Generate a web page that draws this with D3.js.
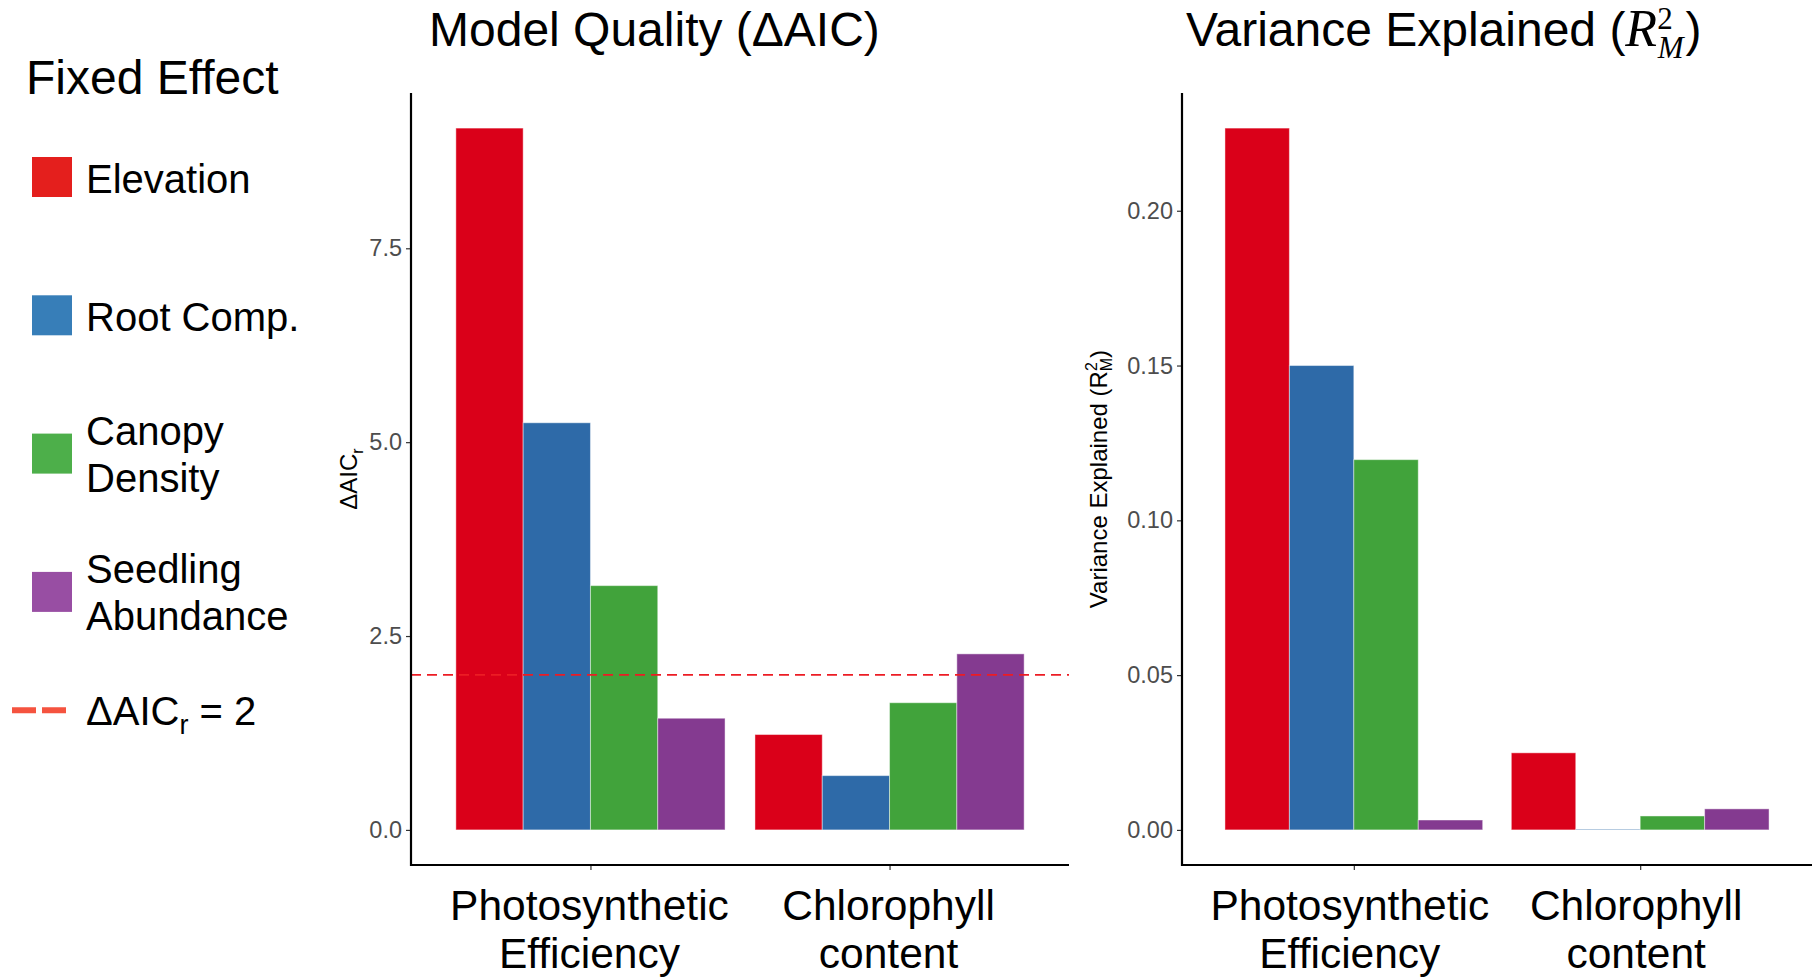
<!DOCTYPE html>
<html>
<head>
<meta charset="utf-8">
<script src="https://cdn.jsdelivr.net/npm/d3@7"></script>
<style>
  body { margin: 0; background: #fff; }
  text { font-family: "Liberation Sans", Arial, sans-serif; }
</style>
</head>
<body>
<div id="chart"></div>
<script>
    const width = 1814, height = 977;
    const plotTop = 93, plotBottom = 865;

    // data
    const categories = [["Photosynthetic", "Efficiency"], ["Chlorophyll", "content"]];
    const effects = ["Elevation", "Root Comp.", "Canopy Density", "Seedling Abundance"];
    const legendLines = [["Elevation"], ["Root Comp."], ["Canopy", "Density"], ["Seedling", "Abundance"]];
    const aicPhoto = [9.05, 5.25, 3.15, 1.44];
    const aicChloro = [1.23, 0.70, 1.64, 2.27];
    const r2Photo = [0.2267, 0.150, 0.1196, 0.0032];
    const r2Chloro = [0.0249, 0.0002, 0.0045, 0.0068];
    const aicTicks = [0, 2.5, 5, 7.5];
    const r2Ticks = [0, 0.05, 0.10, 0.15, 0.20];
    const aicThreshold = 2;

    const barColors = ["#DA0019", "#2E6AA8", "#41A33B", "#843A90"];
    const keyColors = ["#E41F1D", "#377EB8", "#4DAF4A", "#984EA3"];

    const svg = d3.select("#chart").append("svg")
        .attr("width", width)
        .attr("height", height);
    svg.append("rect").attr("width", width).attr("height", height).attr("fill", "#fff");

    const drawPanel = function (p) {
        const x = d3.scaleLinear().domain([0.4, categories.length + 0.6]).range([p.x0, p.x1]);
        const maxV = d3.max(p.series.flat());
        const y = d3.scaleLinear().domain([-0.05 * maxV, 1.05 * maxV]).range([plotBottom, plotTop]);
        const g = svg.append("g");

        const bars = [];
        p.series.forEach((vals, ci) => {
            vals.forEach((v, si) => bars.push({cat: ci + 1, s: si, v: v}));
        });
        const bw = 0.9 / effects.length;

        g.append("g")
            .selectAll("rect")
            .data(bars)
            .enter()
            .append("rect")
            .attr("x", d => x(d.cat - 0.45 + d.s * bw))
            .attr("width", d => x(bw) - x(0))
            .attr("y", d => y(d.v))
            .attr("height", d => y(0) - y(d.v))
            .attr("fill", d => barColors[d.s])
            .attr("stroke", "rgba(255,255,255,0.45)")
            .attr("stroke-width", 1);

        if (p.threshold !== undefined) {
            g.append("line")
                .attr("x1", p.x0).attr("x2", p.x1)
                .attr("y1", y(p.threshold)).attr("y2", y(p.threshold))
                .attr("stroke", "#EC1C24")
                .attr("stroke-width", 1.8)
                .attr("stroke-dasharray", "10,6");
        }

        // y axis
        const yAxis = g.append("g")
            .attr("transform", `translate(${p.x0},0)`)
            .call(d3.axisLeft(y).tickValues(p.ticks).tickFormat(p.fmt).tickSize(5).tickPadding(4));
        yAxis.select(".domain").remove();
        yAxis.selectAll(".tick line").attr("stroke", "#333").attr("stroke-width", 1.2);
        yAxis.selectAll(".tick text")
            .attr("font-family", "Liberation Sans, Arial, sans-serif")
            .attr("font-size", 23.5)
            .attr("fill", "#4D4D4D");

        // x axis ticks
        const xAxis = g.append("g")
            .attr("transform", `translate(0,${plotBottom})`)
            .call(d3.axisBottom(x).tickValues(d3.range(1, categories.length + 1)).tickFormat("").tickSize(5));
        xAxis.select(".domain").remove();
        xAxis.selectAll(".tick line").attr("stroke", "#333").attr("stroke-width", 1.2);

        categories.forEach((lines, i) => {
            const t = g.append("text")
                .attr("text-anchor", "middle")
                .attr("font-size", 42.5)
                .attr("fill", "#000");
            lines.forEach((ln, j) => {
                t.append("tspan").attr("x", x(i + 1) - p.labelShift).attr("y", 920 + j * 48).text(ln);
            });
        });

        // axis lines
        g.append("path")
            .attr("d", `M${p.x0},${plotTop}V${plotBottom}H${p.x1}`)
            .attr("fill", "none")
            .attr("stroke", "#000")
            .attr("stroke-width", 2.2);

        // y title
        const yt = g.append("text")
            .attr("transform", `translate(${p.yTitleX},${(plotTop + plotBottom) / 2}) rotate(-90)`)
            .attr("text-anchor", "middle")
            .attr("font-size", 24)
            .attr("fill", "#000");
        p.yTitle(yt);

        // panel title
        const tt = g.append("text")
            .attr("x", p.titleX).attr("y", 46)
            .attr("font-size", 48)
            .attr("fill", "#000");
        p.title(tt);
    };

    drawPanel({
        x0: 411, x1: 1069,
        series: [aicPhoto, aicChloro],
        ticks: aicTicks,
        fmt: d3.format(".1f"),
        threshold: aicThreshold,
        labelShift: 1,
        yTitleX: 357,
        yTitle: t => {
            t.append("tspan").text("ΔAIC");
            t.append("tspan").attr("font-size", 16).attr("dy", 6).text("r");
        },
        titleX: 429,
        title: t => t.text("Model Quality (ΔAIC)")
    });

    drawPanel({
        x0: 1182, x1: 1812,
        series: [r2Photo, r2Chloro],
        ticks: r2Ticks,
        fmt: d3.format(".2f"),
        labelShift: 4,
        yTitleX: 1107,
        yTitle: t => {
            t.append("tspan").text("Variance Explained (R");
            t.append("tspan").attr("font-size", 16).attr("dy", -10).text("2");
            t.append("tspan").attr("font-size", 16).attr("dx", -9).attr("dy", 15).text("M");
            t.append("tspan").attr("dy", -5).text(")");
        },
        titleX: 1186,
        title: t => {
            t.append("tspan").text("Variance Explained (");
            t.append("tspan").attr("font-family", "Liberation Serif, serif").attr("font-style", "italic").attr("font-size", 52).text("R");
            t.append("tspan").attr("font-family", "Liberation Serif, serif").attr("font-size", 31).attr("dy", -17).text("2");
            t.append("tspan").attr("font-family", "Liberation Serif, serif").attr("font-style", "italic").attr("font-size", 31).attr("dx", -15).attr("dy", 29).text("M");
            t.append("tspan").attr("dy", -12).attr("dx", 2).text(")");
        }
    });

    // legend
    const legend = svg.append("g");
    legend.append("text")
        .attr("x", 26).attr("y", 94)
        .attr("font-size", 48)
        .text("Fixed Effect");

    const keyStep = 138.3;
    const items = legend.selectAll("g.item")
        .data(effects)
        .enter()
        .append("g")
        .attr("class", "item")
        .attr("transform", (d, i) => `translate(0,${157 + i * keyStep})`);

    items.append("rect")
        .attr("x", 32).attr("width", 40).attr("height", 40)
        .attr("fill", (d, i) => keyColors[i]);

    items.each(function (d, i) {
        const lines = legendLines[i];
        const t = d3.select(this).append("text")
            .attr("font-size", 40)
            .attr("fill", "#000");
        lines.forEach((ln, j) => {
            const base = lines.length === 1 ? 36 : 11 + j * 47;
            t.append("tspan").attr("x", 86).attr("y", base).text(ln);
        });
    });

    const lineKey = legend.append("g").attr("transform", `translate(0,${157 + 4 * keyStep})`);
    lineKey.append("line")
        .attr("x1", 12).attr("x2", 67)
        .attr("y1", 0).attr("y2", 0)
        .attr("stroke", "#F5533F")
        .attr("stroke-width", 6)
        .attr("stroke-dasharray", "24,6");
    const lt = lineKey.append("text").attr("x", 86).attr("y", 15).attr("font-size", 40);
    lt.append("tspan").text("ΔAIC");
    lt.append("tspan").attr("font-size", 27).attr("dy", 9).text("r");
    lt.append("tspan").attr("dy", -9).text(" = " + aicThreshold);
</script>
</body>
</html>
